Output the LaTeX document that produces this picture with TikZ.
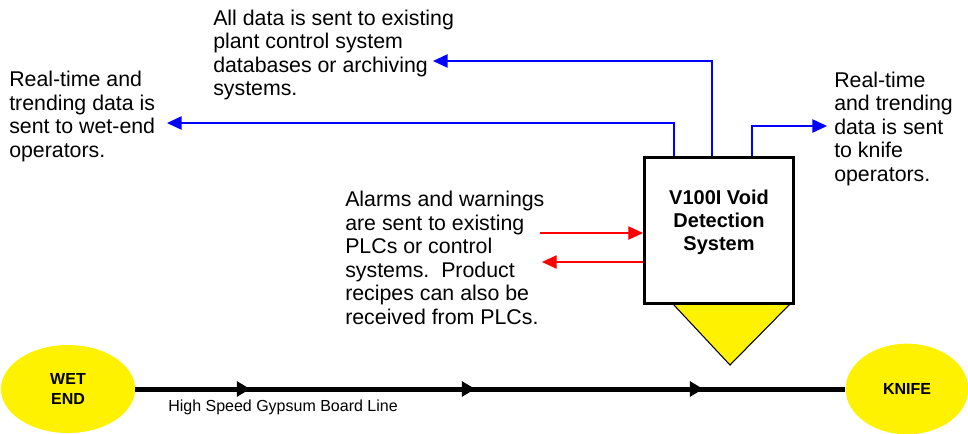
\documentclass[tikz,border=0pt]{standalone}
\usepackage{fontspec}
\setmainfont{Liberation Sans}
\usetikzlibrary{shapes.geometric,arrows.meta,decorations.markings}

\begin{document}
\begin{tikzpicture}[x=0.75pt, y=-0.75pt,
	note/.style={anchor=north west, align=left, inner sep=0pt, font=\fontsize{16}{17.6}\selectfont},
	dataflow/.style={blue, line width=1.1pt, -{Triangle[length=11pt, width=10pt]}},
	alarmflow/.style={red, line width=0.9pt, -{Triangle[length=11pt, width=10pt]}},
	detector/.style={draw, line width=2.5pt, fill=white, minimum width=111.5pt, minimum height=109.25pt, inner sep=0pt},
	endpoint/.style={ellipse, fill=yellow, inner sep=0pt, align=center, font=\bfseries\fontsize{12}{15}\selectfont},
	boardline/.style={line width=3.75pt, postaction={decorate}, decoration={markings,
		mark=at position 86.25pt with {\arrow{Triangle[length=10pt, width=11pt]}},
		mark=at position 255pt with {\arrow{Triangle[length=10pt, width=11pt]}},
		mark=at position 426pt with {\arrow{Triangle[length=10pt, width=11pt]}}}}]
	\useasboundingbox (0,0) rectangle (968,433);
	% texts
	\node[note] (plant-text) at (213,9.5) {All data is sent to existing\\plant control system\\databases or archiving\\systems.};
	\node[note] (wet-text) at (9,71) {Real-time and\\trending data is\\sent to wet-end\\operators.};
	\node[note] (knife-text) at (834,71.5) {Real-time\\and trending\\data is sent\\to knife\\operators.};
	\node[note] (plc-text) at (345,191) {Alarms and warnings\\are sent to existing\\PLCs or control\\systems.\ \ Product\\recipes can also be\\received from PLCs.};
	% detector
	\draw[fill=yellow, line width=0.8pt] (673,304) -- (790,304) -- (730,365) -- cycle;
	\node[detector] (box) at (719,230.5) {};
	\node[align=center, inner sep=0pt, font=\bfseries\fontsize{15}{17.25}\selectfont] (box-text) at (719,222.5) {V100I Void\\Detection\\System};
	% data outputs
	\coordinate (tip-wet) at (167,123);
	\coordinate (tip-plant) at (433,61);
	\coordinate (tip-knife) at (827,126);
	\draw[dataflow] ([xshift=-33.75pt]box.north) |- (tip-wet);
	\draw[dataflow] ([xshift=-5.25pt]box.north) |- (tip-plant);
	\draw[dataflow] ([xshift=24.75pt]box.north) |- (tip-knife);
	% PLC signals
	\coordinate (alarm-start) at (540,233);
	\coordinate (recipe-tip) at (542,262);
	\draw[alarmflow] (alarm-start) -- (alarm-start -| box.west);
	\draw[alarmflow] (recipe-tip -| box.west) -- (recipe-tip);
	% board line
	\node[endpoint, minimum width=100.5pt, minimum height=66pt] (wet) at (68,389) {WET\\END};
	\node[endpoint, minimum width=92pt, minimum height=68pt] (knife) at (907,389) {KNIFE};
	\draw[boardline] (wet.east) -- (knife.west);
	\node[anchor=west, inner sep=0pt, font=\fontsize{12}{14}\selectfont] (line-label) at (168,407) {High Speed Gypsum Board Line};
\end{tikzpicture}
\end{document}
